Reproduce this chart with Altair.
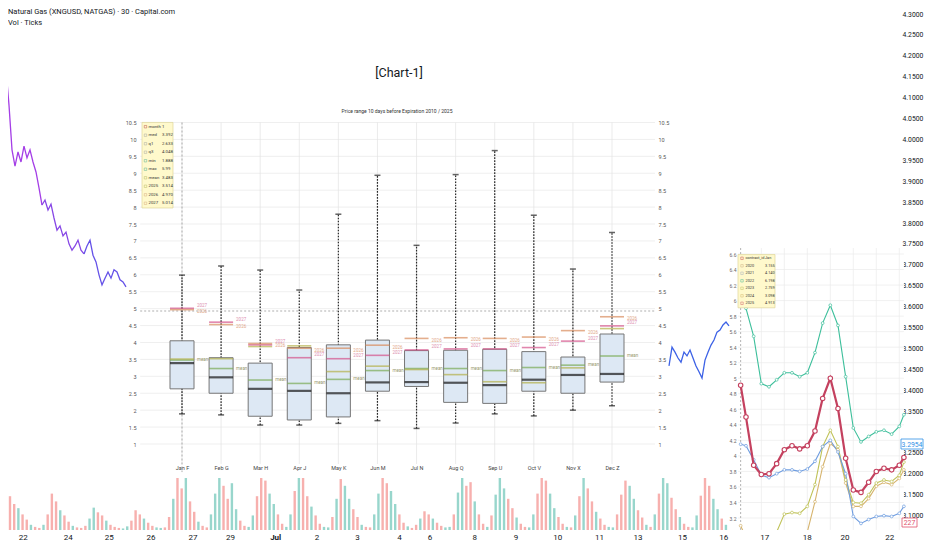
import json
import altair as alt
import pandas as pd

# ---------------- page geometry (reference pixels -> chart pixels) ----------------
W, H = 916, 534
OFF = 8
FONT = "Roboto"


def span(ref_a, val_a, ref_b, val_b, lo_ref, hi_ref):
    k = (val_b - val_a) / (ref_b - ref_a)
    return [val_a + (lo_ref - ref_a) * k, val_a + (hi_ref - ref_a) * k]


def xscale(ref_a, val_a, ref_b, val_b):
    return alt.Scale(domain=span(ref_a, val_a, ref_b, val_b, OFF, OFF + W), nice=False, zero=False, padding=0)


def yscale(ref_a, val_a, ref_b, val_b):
    return alt.Scale(domain=span(ref_a, val_a, ref_b, val_b, OFF + H, OFF), nice=False, zero=False, padding=0)


# ---------------- data: box chart (price range 10 days before expiration) ----------------
months = [1, 2, 3, 4, 5, 6, 7, 8, 9, 10, 11, 12]
month_labels = ["Jan F", "Feb G", "Mar H", "Apr J", "May K", "Jun M",
                "Jul N", "Aug Q", "Sep U", "Oct V", "Nov X", "Dec Z"]
box_min = [1.89, 1.86, 1.56, 1.56, 1.61, 1.69, 1.46, 1.62, 1.89, 1.83, 2.00, 2.13]
box_q1 = [2.63, 2.50, 1.82, 1.71, 1.80, 2.56, 2.70, 2.23, 2.20, 2.56, 2.50, 2.83]
box_med = [3.39, 2.97, 2.63, 2.57, 2.50, 2.82, 2.83, 2.81, 2.74, 2.90, 3.04, 3.07]
box_q3 = [4.05, 3.55, 3.39, 3.85, 3.93, 4.07, 3.76, 3.77, 3.80, 3.73, 3.57, 4.25]
box_max = [5.99, 6.26, 6.14, 5.55, 7.79, 8.94, 6.87, 8.96, 9.67, 7.76, 6.17, 7.25]
mean_v = [3.48, 3.23, 2.89, 2.79, 2.91, 3.17, 3.23, 3.23, 3.17, 3.26, 3.33, 3.60]
y2025 = [3.51, 3.52, 3.88, 3.90, 3.14, 3.30, 3.20, 3.05, 2.84, 2.81, 3.25, 4.41]
y2026 = [4.97, 4.53, 3.97, 3.83, 3.83, 3.92, 4.12, 4.14, 4.12, 4.16, 4.35, 4.76]
y2027 = [5.01, 4.60, 3.93, 3.55, 3.52, 3.62, 3.78, 3.81, 3.81, 3.85, 4.04, 4.49]
box_ticks = [1, 1.5, 2, 2.5, 3, 3.5, 4, 4.5, 5, 5.5, 6, 6.5, 7, 7.5, 8, 8.5, 9, 9.5, 10, 10.5]
cross_price = 4.93

leg1_labels = ["month", "med", "q1", "q3", "min", "max", "mean", "2025", "2026", "2027"]
leg1_values = ["1", "3.392", "2.633", "4.048", "1.888", "5.99", "3.483", "3.514", "4.970", "5.014"]
leg1_colors = ["#b03030", "#9a9a9a", "#9a9a9a", "#9a9a9a", "#3aa58a", "#3aa58a",
               "#a8b050", "#b0b050", "#d0a070", "#d0a070"]

# ---------------- data: inset chart (contract prices) ----------------
inset_x = [-0.7, 0, 1, 2, 3, 4, 5, 6, 7, 8, 9, 10, 11, 12, 13, 14, 15, 16, 17, 18, 19, 20, 20.6]
c2021 = [4.15, 4.13, 3.95, 3.75, 3.72, 3.77, 3.82, 3.82, 3.80, 3.83, 3.93, 4.12, 4.20, 4.05,
         3.77, 3.22, 3.13, 3.18, 3.22, 3.23, 3.22, 3.26, 3.35]
c2022 = [6.20, 5.90, 5.54, 4.93, 4.89, 4.98, 5.07, 5.07, 5.02, 5.07, 5.33, 5.71, 5.94, 5.68,
         5.02, 4.36, 4.18, 4.25, 4.31, 4.33, 4.28, 4.38, 4.53]
c2023 = [2.76, 2.70, 2.66, 2.64, 2.80, 3.02, 3.25, 3.27, 3.26, 3.35, 3.63, 4.12, 4.33, 4.12,
         3.69, 3.40, 3.39, 3.50, 3.65, 3.69, 3.67, 3.75, 3.92]
c2024 = [3.10, 2.95, 2.85, 2.80, 2.82, 2.88, 2.92, 2.93, 2.96, 3.02, 3.41, 3.86, 4.16, 4.08,
         3.65, 3.35, 3.35, 3.45, 3.61, 3.66, 3.63, 3.71, 3.82]
c2025 = [4.91, 4.50, 3.88, 3.76, 3.77, 3.90, 4.08, 4.13, 4.09, 4.13, 4.32, 4.74, 5.00, 4.61,
         3.97, 3.56, 3.53, 3.66, 3.80, 3.84, 3.82, 3.88, 3.98]
inset_ticks = [3.2, 3.4, 3.6, 3.8, 4.0, 4.2, 4.4, 4.6, 4.8, 5.0, 5.2, 5.4, 5.6, 5.8, 6.0, 6.2, 6.4, 6.6]
inset_vgrid = [2, 5, 8, 11, 14, 17, 20]

leg2_labels = ["contract_id", "2020", "2021", "2022", "2023", "2024", "2025"]
leg2_values = ["Jan", "3.155", "4.140", "6.198", "2.759", "3.098", "4.913"]
leg2_colors = ["#c03040", "#c8a878", "#9aa6bc", "#2fb08a", "#b8b84a", "#d0b060", "#c84a5a"]

# ---------------- data: main price line (30 min) ----------------
price_left = [4.159, 4.202, 4.166, 4.082, 3.975, 3.936, 3.970, 3.946, 3.984, 3.956, 3.975,
              3.946, 3.922, 3.884, 3.843, 3.855, 3.831, 3.845, 3.812, 3.783, 3.793, 3.769,
              3.778, 3.750, 3.735, 3.745, 3.759, 3.735, 3.726, 3.745, 3.759, 3.723, 3.707,
              3.676, 3.652, 3.668, 3.683, 3.668, 3.688, 3.683, 3.664, 3.659, 3.647]
price_right = [3.458, 3.503, 3.491, 3.477, 3.467, 3.491, 3.482, 3.496, 3.477, 3.458, 3.444,
               3.429, 3.472, 3.491, 3.508, 3.520, 3.539, 3.544, 3.556, 3.563, 3.554]
right_start = 223
last_price = 3.2954
last_volume = "227"
price_ticks = [4.30, 4.25, 4.20, 4.15, 4.10, 4.05, 4.00, 3.95, 3.90, 3.85, 3.80, 3.75, 3.70,
               3.65, 3.60, 3.55, 3.50, 3.45, 3.40, 3.35, 3.25, 3.20, 3.15, 3.10]

# ---------------- data: volume ----------------
vol_cycles = [
    [30, 45],
    [65, 50, 42, 30, 20, 10, 6, 4, 10, 30],
    [70, 55, 38, 28, 16, 8, 5, 4, 8, 22],
    [43, 34, 28, 18, 10, 6, 4, 3, 7, 18],
    [38, 30, 22, 14, 8, 5, 4, 5, 25, 60],
    [100, 80, 100, 55, 35, 16, 8, 5, 30, 70],
    [100, 85, 60, 90, 40, 18, 8, 6, 28, 65],
    [100, 95, 70, 50, 30, 12, 6, 30, 75],
    [100, 100, 65, 45, 28, 12, 6, 5, 25, 60],
    [98, 85, 60, 40, 25, 10, 6, 5, 30, 70],
    [100, 90, 75, 50, 30, 14, 7, 4, 10, 22],
    [36, 30, 22, 14, 8, 5, 6, 30, 72],
    [100, 85, 92, 55, 30, 12, 6, 28, 68],
    [100, 80, 60, 42, 24, 12, 6, 5, 30, 70],
    [100, 95, 70, 42, 25, 12, 6, 5, 28, 65],
    [100, 80, 55, 35, 22, 10, 6, 5, 30, 68],
    [95, 85, 60, 38, 24, 10, 6, 30, 70],
    [100, 90, 62, 40, 25, 12, 6, 5, 28, 66],
    [100, 85, 60, 40, 22, 10],
]
vol_dirs = ["dd", "ddudduddud", "dduddudddu", "udduddduud", "ddudduuddu", "dduddudduu",
            "udduudduud", "dduudduud", "uddudduudu", "duuddudduu", "dduudduddu", "ddudduudu",
            "udduddudu", "uuddudduud", "dduuddudud", "uddudduudd", "duuddudud", "uuddudduud",
            "dduudu"]

# ---------------- data: time axis ----------------
date_labels = ["22", "24", "25", "26", "27", "29", "Jul", "2", "3", "4", "6", "8", "9", "10",
               "11", "13", "15", "16", "17", "18", "20", "22"]
date_pos = [0, 1.08, 2.06, 3.06, 4.06, 4.96, 6.04, 7.03, 8.0, 9.0, 9.73, 10.8, 11.79, 12.79,
            13.79, 14.71, 15.77, 16.76, 17.74, 18.76, 19.66, 20.73]

# ---------------- scales ----------------
BX = xscale(182, 1, 612, 12)
BY = yscale(444, 1, 122.5, 10.5)
IX = xscale(746, 0, 899.3, 20)
IY = yscale(254, 6.6, 518, 3.2)
PX = xscale(0, 0, 3, 1)
PY = yscale(14, 4.3, 515.6, 3.1)
VX = xscale(10, 2, 705, 168)
VY = yscale(530, 0, 478, 100)
DX = xscale(22.7, 0, 64.5, 1)
L1Y = yscale(126.7, 0, 203.3, 9)
L2Y = yscale(258.3, 0, 303.3, 6)

AX = dict(domain=False, ticks=False, tickSize=0, grid=False, labelOverlap=False,
          labelFlush=False, title=None, labelFont=FONT)
ONE = pd.DataFrame({"a": [0]})
BOX_M0, BOX_M1 = -0.07, 13.1


def mx(field="m"):
    return alt.X(f"{field}:Q", scale=BX, axis=None)


def my(field):
    return alt.Y(f"{field}:Q", scale=BY, axis=None)


layers = []

# ---------- box panel grid ----------
tick_df = pd.DataFrame({"p": box_ticks})
layers.append(alt.Chart(tick_df).mark_rule(color="#e8e8e8", strokeWidth=0.7).encode(
    y=alt.Y("p:Q", scale=BY, axis=alt.Axis(orient="left", offset=-130, values=box_ticks,
            labelExpr="format(datum.value, '.1~f')", labelFontSize=5.5, labelColor="#555",
            labelPadding=2, **AX)),
    x=alt.XDatum(BOX_M0, scale=BX, axis=None), x2=alt.X2Datum(BOX_M1)))
layers.append(alt.Chart(tick_df).mark_rule(opacity=0).encode(
    y=alt.Y("p:Q", scale=BY, axis=alt.Axis(orient="right", offset=-268, values=box_ticks,
            labelExpr="format(datum.value, '.1~f')", labelFontSize=5.5, labelColor="#555",
            labelPadding=2, **AX)),
    x=alt.XDatum(BOX_M0, scale=BX, axis=None), x2=alt.X2Datum(BOX_M1)))
month_df = pd.DataFrame({"m": months, "name": month_labels})
layers.append(alt.Chart(month_df).mark_rule(color="#e3e3e3", strokeWidth=0.7).encode(
    x=alt.X("m:Q", scale=BX, axis=alt.Axis(orient="bottom", offset=-79, values=months,
            labelExpr=json.dumps(month_labels) + "[datum.value - 1]", labelFontSize=5.5,
            labelColor="#444", labelPadding=2, **AX)),
    y=alt.YDatum(10.5, scale=BY, axis=None), y2=alt.Y2Datum(0.41)))
layers.append(alt.Chart(ONE).mark_rule(color="#9a9a9a", strokeDash=[2, 2], strokeWidth=0.8).encode(
    x=alt.XDatum(1, scale=BX, axis=None), y=alt.YDatum(10.5, scale=BY, axis=None), y2=alt.Y2Datum(0.17)))
layers.append(alt.Chart(ONE).mark_rule(color="#9a9a9a", strokeDash=[2, 2], strokeWidth=0.8).encode(
    y=alt.YDatum(cross_price, scale=BY, axis=None), x=alt.XDatum(BOX_M0, scale=BX, axis=None),
    x2=alt.X2Datum(BOX_M1)))

# ---------- boxes ----------
box_df = pd.DataFrame({"m": months, "lo": box_min, "q1": box_q1, "med": box_med,
                       "q3": box_q3, "hi": box_max})
layers.append(alt.Chart(box_df).mark_rule(color="#2a2a2a", strokeDash=[1.6, 1.4], strokeWidth=1.2).encode(
    x=mx(), y=my("lo"), y2=alt.Y2("hi:Q")))
layers.append(alt.Chart(box_df).mark_bar(size=24, fill="#dde8f4", stroke="#767676", strokeWidth=1).encode(
    x=mx(), y=my("q1"), y2=alt.Y2("q3:Q")))
caps_df = pd.DataFrame({"m": months + months, "p": box_min + box_max})
layers.append(alt.Chart(caps_df).mark_tick(orient="horizontal", size=6, thickness=1.5, color="#222").encode(
    x=mx(), y=my("p")))

series_rows = []
for name, vals, col in [("mean", mean_v, "#7aab55"), ("2025", y2025, "#b3b04a"),
                        ("2027", y2027, "#d4528a"), ("2026", y2026, "#d98c5c")]:
    for m, v in zip(months, vals):
        series_rows.append({"m": m, "p": v, "s": name, "col": col})
series_df = pd.DataFrame(series_rows)
layers.append(alt.Chart(series_df).mark_tick(orient="horizontal", size=24, thickness=1.6).encode(
    x=mx(), y=my("p"), color=alt.Color("col:N", scale=None)))
layers.append(alt.Chart(box_df).mark_tick(orient="horizontal", size=24, thickness=2.2, color="#161616").encode(
    x=mx(), y=my("med")))

for name, vals, col, dy in [("mean", mean_v, "#9a9a70", 0), ("2027", y2027, "#dd8fb0", -2.5),
                            ("2026", y2026, "#dfa888", 2.5)]:
    lab_df = pd.DataFrame({"m": months, "p": vals, "t": [name] * len(months)})
    layers.append(alt.Chart(lab_df).mark_text(align="left", dx=15, dy=dy, fontSize=4.5, font=FONT,
                                              color=col).encode(x=mx(), y=my("p"), text="t:N"))

# ---------- legend 1 ----------
leg1_df = pd.DataFrame({"r": list(range(len(leg1_labels))), "lab": leg1_labels,
                        "val": leg1_values, "col": leg1_colors})
layers.append(alt.Chart(ONE).mark_rect(fill="#fff9cc", stroke="#e0d69a", strokeWidth=0.7).encode(
    x=alt.value(134), x2=alt.value(165), y=alt.YDatum(-0.5, scale=L1Y, axis=None), y2=alt.Y2Datum(9.55)))
layers.append(alt.Chart(leg1_df).mark_point(shape="square", size=6, filled=False, strokeWidth=0.6).encode(
    x=alt.value(137.5), y=alt.Y("r:Q", scale=L1Y, axis=None), stroke=alt.Stroke("col:N", scale=None)))
layers.append(alt.Chart(leg1_df).mark_text(align="left", fontSize=4.3, font=FONT, color="#333").encode(
    x=alt.value(140.5), y=alt.Y("r:Q", scale=L1Y, axis=None), text="lab:N"))
layers.append(alt.Chart(leg1_df).mark_text(align="left", fontSize=4.3, font=FONT, color="#333").encode(
    x=alt.value(154), y=alt.Y("r:Q", scale=L1Y, axis=None), text="val:N"))

# ---------- volume ----------
vol_rows = []
k = 0
for cyc, dirs in zip(vol_cycles, vol_dirs):
    for v, d in zip(cyc, dirs):
        vol_rows.append({"k": k, "v": v, "col": "#98d6cc" if d == "u" else "#f7b0ae"})
        k += 1
layers.append(alt.Chart(pd.DataFrame(vol_rows)).mark_bar(size=2.4).encode(
    x=alt.X("k:Q", scale=VX, axis=None), y=alt.Y("v:Q", scale=VY, axis=None),
    y2=alt.Y2Datum(0), color=alt.Color("col:N", scale=None)))

# ---------- price line ----------
price_rows = []
for a, b, col in [(0, 14, "#a43ee6"), (14, 28, "#8747e6"), (28, 42, "#6552e8")]:
    for t in range(a, b + 1):
        price_rows.append({"t": t, "p": price_left[t], "seg": f"L{a}", "col": col})
for i, v in enumerate(price_right):
    price_rows.append({"t": right_start + i, "p": v, "seg": "R", "col": "#3d62e6"})
layers.append(alt.Chart(pd.DataFrame(price_rows)).mark_line(strokeWidth=1.3).encode(
    x=alt.X("t:Q", scale=PX, axis=None),
    y=alt.Y("p:Q", scale=PY, axis=alt.Axis(orient="right", offset=-24, values=price_ticks,
            format=".4f", labelFontSize=6.8, labelColor="#131722", labelPadding=2, **AX)),
    color=alt.Color("col:N", scale=None), detail="seg:N"))

# ---------- inset chart ----------
I0, I1, V0, V1 = -1.04, 20.6, 6.677, 3.047
layers.append(alt.Chart(ONE).mark_rect(fill="white").encode(
    x=alt.XDatum(I0, scale=IX, axis=None), x2=alt.X2Datum(I1),
    y=alt.YDatum(V0, scale=IY, axis=None), y2=alt.Y2Datum(V1)))
layers.append(alt.Chart(pd.DataFrame({"v": inset_ticks})).mark_rule(color="#ebebeb", strokeWidth=0.7).encode(
    y=alt.Y("v:Q", scale=IY, axis=alt.Axis(orient="left", offset=-730, values=inset_ticks,
            labelExpr="format(datum.value, '.1~f')", labelFontSize=5, labelColor="#666",
            labelPadding=2, **AX)),
    x=alt.XDatum(I0, scale=IX, axis=None), x2=alt.X2Datum(I1)))
layers.append(alt.Chart(pd.DataFrame({"i": inset_vgrid})).mark_rule(color="#ebebeb", strokeWidth=0.7).encode(
    x=alt.X("i:Q", scale=IX, axis=None), y=alt.YDatum(V0, scale=IY, axis=None), y2=alt.Y2Datum(V1)))
layers.append(alt.Chart(ONE).mark_rule(color="#a0a0a0", strokeDash=[2, 2], strokeWidth=0.8).encode(
    x=alt.XDatum(-0.7, scale=IX, axis=None), y=alt.YDatum(V0, scale=IY, axis=None), y2=alt.Y2Datum(V1)))

inset_rows = []
for name, vals, col in [("2024", c2024, "#d6b46e"), ("2023", c2023, "#bfc257"),
                        ("2021", c2021, "#6f9de0"), ("2022", c2022, "#3dbf9b"),
                        ("2025", c2025, "#c4415f")]:
    for x, v in zip(inset_x, vals):
        inset_rows.append({"i": x, "v": v, "s": name, "col": col})
inset_df = pd.DataFrame(inset_rows)
thin_df = inset_df[inset_df.s != "2025"]
red_df = inset_df[inset_df.s == "2025"]
layers.append(alt.Chart(thin_df).mark_line(strokeWidth=1.1).encode(
    x=alt.X("i:Q", scale=IX, axis=None), y=alt.Y("v:Q", scale=IY, axis=None),
    color=alt.Color("col:N", scale=None), detail="s:N"))
layers.append(alt.Chart(thin_df).mark_circle(size=8, fill="white", strokeWidth=0.7, opacity=1).encode(
    x=alt.X("i:Q", scale=IX, axis=None), y=alt.Y("v:Q", scale=IY, axis=None),
    stroke=alt.Stroke("col:N", scale=None)))
layers.append(alt.Chart(red_df).mark_line(strokeWidth=2.2).encode(
    x=alt.X("i:Q", scale=IX, axis=None), y=alt.Y("v:Q", scale=IY, axis=None),
    color=alt.Color("col:N", scale=None)))
layers.append(alt.Chart(red_df).mark_circle(size=20, fill="white", strokeWidth=1.1, opacity=1).encode(
    x=alt.X("i:Q", scale=IX, axis=None), y=alt.Y("v:Q", scale=IY, axis=None),
    stroke=alt.Stroke("col:N", scale=None)))
layers.append(alt.Chart(ONE).mark_rect(fill="white").encode(
    x=alt.XDatum(I0, scale=IX, axis=None), x2=alt.X2Datum(I1),
    y=alt.YDatum(V1, scale=IY, axis=None), y2=alt.Y2Datum(2.3)))

# ---------- legend 2 ----------
leg2_df = pd.DataFrame({"r": list(range(len(leg2_labels))), "lab": leg2_labels,
                        "val": leg2_values, "col": leg2_colors})
layers.append(alt.Chart(ONE).mark_rect(fill="#fff9cc", stroke="#e0d69a", strokeWidth=0.7).encode(
    x=alt.value(730), x2=alt.value(767), y=alt.YDatum(-0.5, scale=L2Y, axis=None), y2=alt.Y2Datum(6.6)))
layers.append(alt.Chart(leg2_df).mark_point(shape="square", size=6, filled=False, strokeWidth=0.6).encode(
    x=alt.value(734), y=alt.Y("r:Q", scale=L2Y, axis=None), stroke=alt.Stroke("col:N", scale=None)))
layers.append(alt.Chart(leg2_df).mark_text(align="left", fontSize=3.8, font=FONT, color="#333").encode(
    x=alt.value(737.5), y=alt.Y("r:Q", scale=L2Y, axis=None), text="lab:N"))
layers.append(alt.Chart(leg2_df).mark_text(align="left", fontSize=3.8, font=FONT, color="#333").encode(
    x=alt.value(757), y=alt.Y("r:Q", scale=L2Y, axis=None), text="val:N"))

# ---------- time axis ----------
layers.append(alt.Chart(pd.DataFrame({"d": date_pos})).mark_tick(opacity=0).encode(
    x=alt.X("d:Q", scale=DX, axis=alt.Axis(
        orient="bottom", offset=-11, values=date_pos, zindex=1,
        labelExpr=json.dumps(date_labels) + "[indexof(" + json.dumps(date_pos) + ", datum.value)]",
        labelFontSize=8, labelColor="#131722", labelPadding=2,
        labelFontWeight={"condition": {"test": "datum.value == 6.04", "value": "bold"}, "value": "normal"},
        **AX)),
    y=alt.value(0)))

# ---------- price tags ----------
layers.append(alt.Chart(ONE).mark_rect(fill="white", stroke="#2f8fe6", strokeWidth=0.8).encode(
    x=alt.value(893), x2=alt.value(915), y=alt.value(431), y2=alt.value(441)))
layers.append(alt.Chart(pd.DataFrame({"t": [f"{last_price:.4f}"]})).mark_text(
    fontSize=6.8, font=FONT, color="#2f8fe6").encode(x=alt.value(904), y=alt.value(436.5), text="t:N"))
layers.append(alt.Chart(ONE).mark_rect(fill="white", stroke="#e0506a", strokeWidth=0.8).encode(
    x=alt.value(894), x2=alt.value(909), y=alt.value(510), y2=alt.value(519)))
layers.append(alt.Chart(pd.DataFrame({"t": [last_volume]})).mark_text(
    fontSize=6.8, font=FONT, color="#e0506a").encode(x=alt.value(901.5), y=alt.value(515), text="t:N"))

# ---------- headers ----------
layers.append(alt.Chart(pd.DataFrame({"t": ["Natural Gas (XNGUSD, NATGAS) · 30 · Capital.com"]})).mark_text(
    align="left", baseline="middle", fontSize=7.5, font=FONT, color="#131722").encode(
    x=alt.value(0), y=alt.value(4), text="t:N"))
layers.append(alt.Chart(pd.DataFrame({"t": ["Vol · Ticks"]})).mark_text(
    align="left", baseline="middle", fontSize=7.5, font=FONT, color="#131722").encode(
    x=alt.value(0), y=alt.value(15), text="t:N"))
layers.append(alt.Chart(pd.DataFrame({"t": ["[Chart-1]"]})).mark_text(
    align="center", baseline="middle", fontSize=12.5, font=FONT, color="#131722").encode(
    x=alt.value(391), y=alt.value(65), text="t:N"))
layers.append(alt.Chart(pd.DataFrame({"t": ["Price range 10 days before Expiration 2010 / 2025"]})).mark_text(
    align="center", baseline="middle", fontSize=5, font=FONT, color="#333").encode(
    x=alt.value(389), y=alt.value(103), text="t:N"))

chart = alt.layer(*layers).resolve_scale(x="independent", y="independent").properties(
    width=W, height=H, padding=0, autosize=alt.AutoSizeParams(type="none"), background="white"
).configure_view(stroke=None)

chart.save("out.html", embed_options={"renderer": "svg", "actions": False})
